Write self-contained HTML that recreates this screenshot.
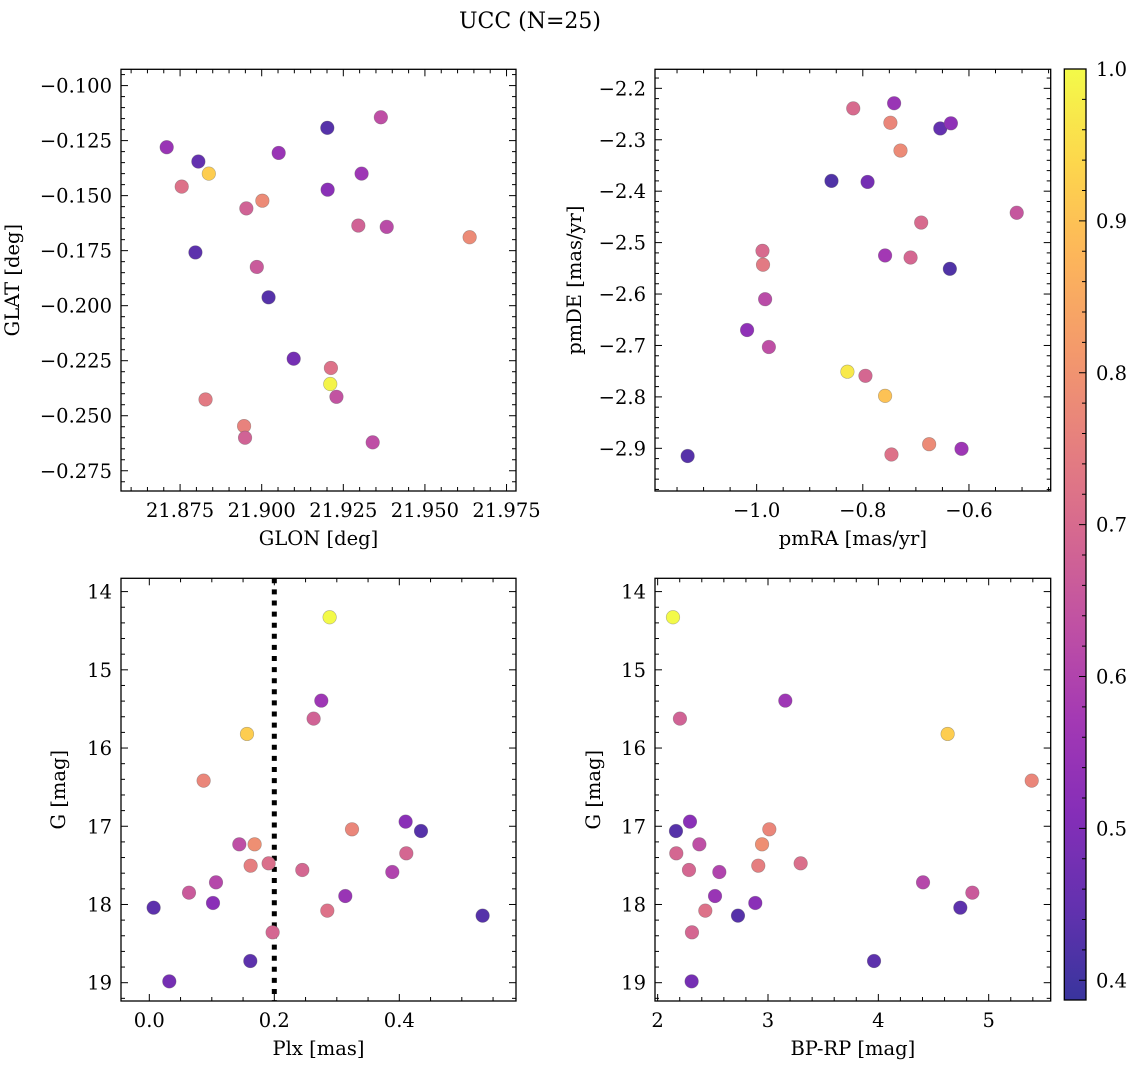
<!DOCTYPE html>
<html><head><meta charset="utf-8">
<style>
html,body{margin:0;padding:0;background:#fff;}
svg, svg text{font-family:"DejaVu Serif","Liberation Serif",serif;}
</style></head>
<body>
<svg id="fig" width="1136" height="1068" viewBox="0 0 1136 1068" xmlns="http://www.w3.org/2000/svg" font-family="DejaVu Serif, Liberation Serif, serif">
<defs><linearGradient id="cbgrad" x1="0" y1="1" x2="0" y2="0"></linearGradient></defs>
<text x="530" y="28" font-size="22" text-anchor="middle" font-family="DejaVu Serif, Liberation Serif, serif">UCC (N=25)</text>
</svg>
<script>
// ---- data ----
const tlGlon=[21.8709,21.8806,21.8838,21.8755,21.9201,21.9365,21.9052,21.9306,21.9202,21.9002,21.8953,21.9296,21.9383,21.9637,21.8797,21.8985,21.9021,21.9098,21.9212,21.9210,21.9229,21.8828,21.8946,21.8949,21.9340];
const tlGlat=[-0.1280,-0.1345,-0.1400,-0.1459,-0.1192,-0.1144,-0.1306,-0.1400,-0.1473,-0.1523,-0.1558,-0.1636,-0.1642,-0.1689,-0.1758,-0.1824,-0.1962,-0.2241,-0.2283,-0.2356,-0.2414,-0.2426,-0.2547,-0.2600,-0.2621];
const tlProb=[0.55,0.45,0.92,0.72,0.43,0.63,0.55,0.56,0.52,0.78,0.68,0.68,0.62,0.78,0.44,0.66,0.43,0.48,0.72,0.99,0.64,0.74,0.76,0.68,0.63];

const trPmra=[-0.818,-0.741,-0.748,-0.654,-0.634,-0.729,-0.859,-0.791,-0.690,-0.510,-0.989,-0.758,-0.710,-0.988,-0.636,-0.984,-1.018,-0.977,-0.829,-0.795,-0.758,-1.130,-0.746,-0.675,-0.614];
const trPmde=[-2.239,-2.229,-2.267,-2.278,-2.268,-2.321,-2.380,-2.382,-2.461,-2.442,-2.516,-2.525,-2.529,-2.543,-2.551,-2.610,-2.670,-2.703,-2.751,-2.759,-2.798,-2.915,-2.912,-2.892,-2.901];
const trProb=[0.70,0.55,0.77,0.45,0.53,0.78,0.42,0.48,0.70,0.65,0.70,0.57,0.69,0.74,0.42,0.62,0.53,0.63,0.97,0.69,0.90,0.43,0.72,0.78,0.56];

const gMag=[14.328,15.394,15.624,15.820,16.417,16.941,17.061,17.039,17.231,17.231,17.346,17.504,17.474,17.559,17.585,17.717,17.849,17.892,17.981,18.041,18.079,18.143,18.356,18.723,18.983];
const plx=[0.2885,0.2752,0.2629,0.1563,0.0869,0.4101,0.4347,0.3243,0.1440,0.1685,0.4112,0.1621,0.1909,0.2448,0.3888,0.1067,0.0635,0.3136,0.1019,0.0069,0.2848,0.5333,0.1973,0.1616,0.0320];
const bprp=[2.139,3.157,2.202,4.628,5.390,2.293,2.166,3.012,2.378,2.946,2.169,2.912,3.296,2.284,2.559,4.405,4.852,2.520,2.885,4.743,2.432,2.728,2.311,3.961,2.308];
const botProb=[1.0,0.56,0.68,0.92,0.77,0.52,0.43,0.77,0.63,0.79,0.69,0.75,0.71,0.69,0.60,0.61,0.66,0.55,0.52,0.44,0.72,0.43,0.69,0.44,0.48];

const tlXTicks=[21.875,21.900,21.925,21.950,21.975];
const tlYTicks=[-0.100,-0.125,-0.150,-0.175,-0.200,-0.225,-0.250,-0.275];
const trXTicks=[-1.0,-0.8,-0.6];
const trYTicks=[-2.2,-2.3,-2.4,-2.5,-2.6,-2.7,-2.8,-2.9];
const blXTicks=[0.0,0.2,0.4];
const gTicks=[14,15,16,17,18,19];
const brXTicks=[2,3,4,5];
const cbTicks=[0.4,0.5,0.6,0.7,0.8,0.9,1.0];
const plxCut=[0.2];

const VMIN=0.387, VMAX=1.0;
const FS=19.5;
const FF='DejaVu Serif, Liberation Serif, serif';
const NS="http://www.w3.org/2000/svg";
const svg=document.getElementById('fig');

const plasma=[[13,8,135],[65,4,157],[106,0,168],[143,13,164],[177,42,144],[204,71,120],[225,100,98],[242,132,75],[252,166,54],[252,206,37],[240,249,33]];
function cmap(v){
  let t=(v-VMIN)/(VMAX-VMIN); t=Math.max(0,Math.min(1,t));
  const f=t*10, i=Math.min(9,Math.floor(f)), r=f-i;
  const c=plasma[i].map((a,k)=>a+(plasma[i+1][k]-a)*r);
  const al=0.82;
  return 'rgb('+c.map(a=>Math.round(a*al+255*(1-al))).join(',')+')';
}
function mk(tag,attrs,parent){
  const e=document.createElementNS(NS,tag);
  for(const k in attrs) e.setAttribute(k,attrs[k]);
  (parent||svg).appendChild(e); return e;
}
function fmt(v,d){ const s=v.toFixed(d); return s.replace('-','\u2212'); }

function panel(o){
  const g=mk('g',{});
  
  
  const sx=v=>o.x0+(v-o.xmin)/(o.xmax-o.xmin)*(o.x1-o.x0);
  const sy=v=>o.y0+(v-o.ytop)/(o.ybot-o.ytop)*(o.y1-o.y0);
  const eps=1e-9;
  let start=Math.ceil((Math.min(o.xmin,o.xmax))/o.xminor-eps)*o.xminor;
  for(let v=start; v<=o.xmax+eps; v+=o.xminor){
    const x=sx(v);
    const isMaj=Math.abs(Math.round(v/o.xmajor)*o.xmajor-v)<o.xminor/10;
    const L=isMaj?7:4;
    mk('line',{x1:x,x2:x,y1:o.y1,y2:o.y1-L,stroke:'#000','stroke-width':1},g);
    mk('line',{x1:x,x2:x,y1:o.y0,y2:o.y0+L,stroke:'#000','stroke-width':1},g);
  }
  const ylo=Math.min(o.ytop,o.ybot), yhi=Math.max(o.ytop,o.ybot);
  start=Math.ceil(ylo/o.yminor-eps)*o.yminor;
  for(let v=start; v<=yhi+eps; v+=o.yminor){
    const y=sy(v);
    const isMaj=Math.abs(Math.round(v/o.ymajor)*o.ymajor-v)<o.yminor/10;
    const L=isMaj?7:4;
    mk('line',{x1:o.x0,x2:o.x0+L,y1:y,y2:y,stroke:'#000','stroke-width':1},g);
    mk('line',{x1:o.x1,x2:o.x1-L,y1:y,y2:y,stroke:'#000','stroke-width':1},g);
  }
  o.xticks.forEach(v=>{
    const t=mk('text',{x:sx(v),y:o.y1+26,'font-size':FS,'font-family':FF,'text-anchor':'middle'},g);
    t.textContent=fmt(v,o.xdec);
    
    
  });
  o.yticks.forEach(v=>{
    const t=mk('text',{x:o.x0-9,y:sy(v)+7,'font-size':FS,'font-family':FF,'text-anchor':'end'},g);
    t.textContent=fmt(v,o.ydec);
    
    
  });
  const xl=mk('text',{x:(o.x0+o.x1)/2,y:o.y1+54,'font-size':FS,'font-family':FF,'text-anchor':'middle'},g);
  xl.textContent=o.xlabel;
  
  
  const yx=o.ylx, yy=(o.y0+o.y1)/2;
  const yl=mk('text',{x:yx,y:yy,'font-size':FS,'font-family':FF,'text-anchor':'middle',transform:'rotate(-90 '+yx+' '+yy+')'},g);
  yl.textContent=o.ylabel;
  
  
  const cid='clip'+o.name;
  const cp=mk('clipPath',{id:cid},g);
  mk('rect',{x:o.x0,y:o.y0,width:o.x1-o.x0,height:o.y1-o.y0},cp);
  const pg=mk('g',{'clip-path':'url(#'+cid+')'},g);
  if(o.vline){
    o.vline.forEach(v=>{
      const l=mk('line',{x1:sx(v),x2:sx(v),y1:o.y0,y2:o.y1,stroke:'#000','stroke-width':5,'stroke-dasharray':'5 6.1'},pg);
      
      
    });
  }
  for(let i=0;i<o.xs.length;i++){
    const c=mk('circle',{cx:sx(o.xs[i]),cy:sy(o.ys[i]),r:6.8,fill:cmap(o.ps[i]),stroke:'rgba(90,90,90,0.45)','stroke-width':0.6},pg);
    
    
  }
  const fr=mk('rect',{x:o.x0,y:o.y0,width:o.x1-o.x0,height:o.y1-o.y0,fill:'none',stroke:'#000','stroke-width':1.3},g);
  
  
}

panel({name:'glon-glat-panel',x0:121,x1:516,y0:69.3,y1:491,xmin:21.8569,xmax:21.9779,ytop:-0.0926,ybot:-0.2842,
  xminor:0.005,xmajor:0.025,yminor:0.005,ymajor:0.025,xticks:tlXTicks,yticks:tlYTicks,xdec:3,ydec:3,
  xlabel:'GLON [deg]',ylabel:'GLAT [deg]',ylx:19,xs:tlGlon,ys:tlGlat,ps:tlProb});
panel({name:'pm-panel',x0:655,x1:1050.7,y0:69.3,y1:491,xmin:-1.1915,xmax:-0.446,ytop:-2.163,ybot:-2.983,
  xminor:0.05,xmajor:0.2,yminor:0.02,ymajor:0.1,xticks:trXTicks,yticks:trYTicks,xdec:1,ydec:1,
  xlabel:'pmRA [mas/yr]',ylabel:'pmDE [mas/yr]',ylx:581,xs:trPmra,ys:trPmde,ps:trProb});
panel({name:'plx-g-panel',x0:121,x1:516,y0:578.3,y1:1001,xmin:-0.0453,xmax:0.5867,ytop:13.83,ybot:19.234,
  xminor:0.05,xmajor:0.2,yminor:0.2,ymajor:1,xticks:blXTicks,yticks:gTicks,xdec:1,ydec:0,
  xlabel:'Plx [mas]',ylabel:'G [mag]',ylx:65,xs:plx,ys:gMag,ps:botProb,vline:plxCut});
panel({name:'cmd-panel',x0:655,x1:1050.7,y0:578.3,y1:1001,xmin:1.976,xmax:5.562,ytop:13.83,ybot:19.234,
  xminor:0.2,xmajor:1,yminor:0.2,ymajor:1,xticks:brXTicks,yticks:gTicks,xdec:0,ydec:0,
  xlabel:'BP-RP [mag]',ylabel:'G [mag]',ylx:600,xs:bprp,ys:gMag,ps:botProb});

const grad=document.getElementById('cbgrad');
for(let k=0;k<=20;k++){
  const v=VMIN+(VMAX-VMIN)*k/20;
  mk('stop',{offset:(k/20),'stop-color':cmap(v)},grad);
}
const cb=mk('g',{});


const cx0=1064.3,cx1=1086,cy0=69,cy1=1000;
const cy=v=>cy1-(v-VMIN)/(VMAX-VMIN)*(cy1-cy0);
mk('rect',{x:cx0,y:cy0,width:cx1-cx0,height:cy1-cy0,fill:'url(#cbgrad)'},cb);
for(let v=0.40; v<=1.0001; v+=0.02){
  const isMaj=Math.abs(Math.round(v*10)/10-v)<0.001;
  const L=isMaj?7:4;
  mk('line',{x1:cx1,x2:cx1-L,y1:cy(v),y2:cy(v),stroke:'#000','stroke-width':1},cb);
}
cbTicks.forEach(v=>{
  const t=mk('text',{x:cx1+10,y:cy(v)+7,'font-size':FS,'font-family':FF},cb);
  t.textContent=v.toFixed(1);
  
  
});
mk('rect',{x:cx0,y:cy0,width:cx1-cx0,height:cy1-cy0,fill:'none',stroke:'#000','stroke-width':1.3},cb);
</script>
</body></html>
